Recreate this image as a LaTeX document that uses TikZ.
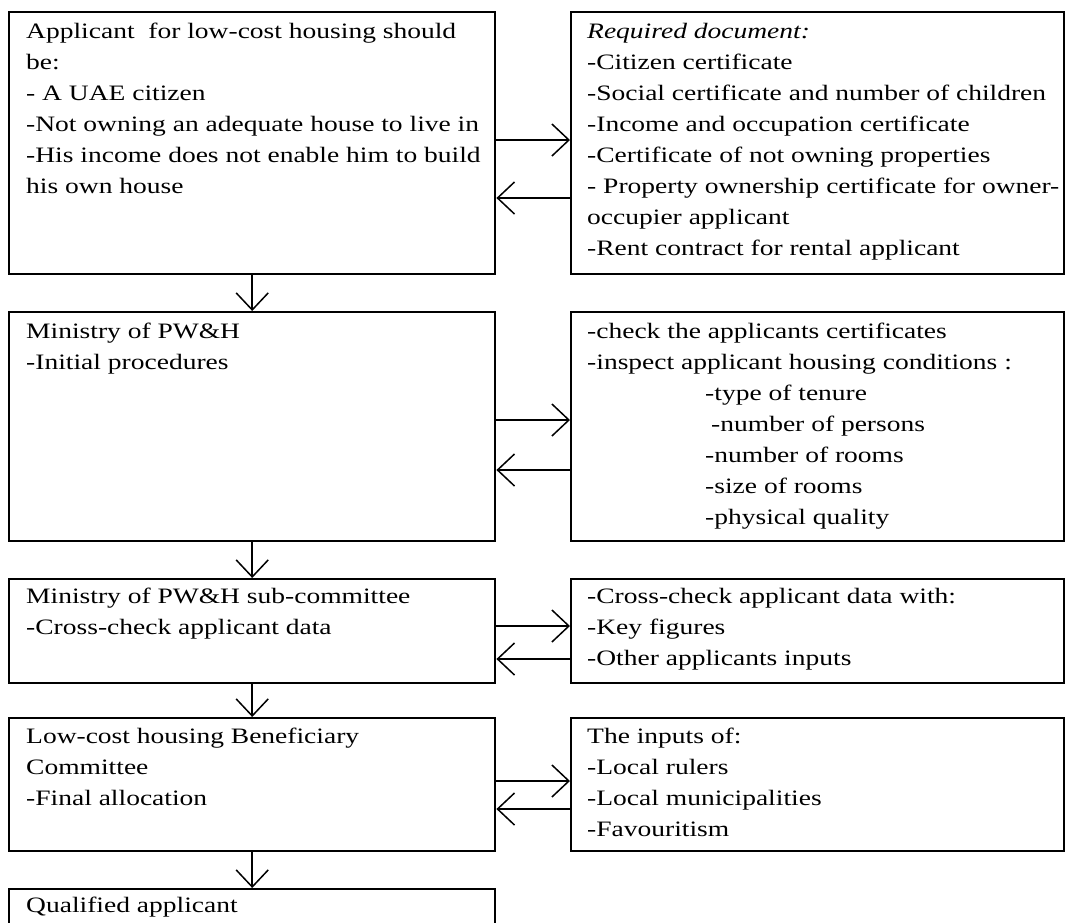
\documentclass[tikz,border=0pt]{standalone}
\usepackage{fontspec}
\setmainfont{Liberation Serif}[FakeStretch=1.25]
\usetikzlibrary{arrows.meta}

\begin{document}
\begin{tikzpicture}[x=1pt,y=-1pt,
  box/.style={draw,line width=2.4pt,inner sep=0pt,anchor=north west},
  txt/.style={anchor=north west,inner sep=0pt,align=left,font=\fontsize{22}{31}\selectfont},
  flow/.style={line width=1.5pt,-{Straight Barb[length=17pt,width=32pt]}}]
\useasboundingbox (0,0) rectangle (1067,922);
\clip (0,0) rectangle (1067,922);

% left column
\node[box,minimum width=486pt,minimum height=262pt] (app) at (8,11) {};
\node[box,minimum width=486pt,minimum height=229pt] (ministry) at (8,311) {};
\node[box,minimum width=486pt,minimum height=104pt] (subcom) at (8,578) {};
\node[box,minimum width=486pt,minimum height=133pt] (benef) at (8,717) {};
\node[box,minimum width=486pt,minimum height=60pt] (qualified) at (8,888) {};

% right column
\node[box,minimum width=493pt,minimum height=262pt] (docs) at (570,11) {};
\node[box,minimum width=493pt,minimum height=229pt] (checks) at (570,311) {};
\node[box,minimum width=493pt,minimum height=104pt] (crosschk) at (570,578) {};
\node[box,minimum width=493pt,minimum height=133pt] (inputs) at (570,717) {};

\node[txt] (apptxt) at (26,23) {Applicant\ \ for low-cost housing should\\be:\\- A UAE citizen\\-Not owning an adequate house to live in\\-His income does not enable him to build\\his own house};
\node[txt] (docstxt) at (587,23) {\textit{Required document:}\\-Citizen certificate\\-Social certificate and number of children\\-Income and occupation certificate\\-Certificate of not owning properties\\- Property ownership certificate for owner-\\occupier applicant\\-Rent contract for rental applicant};

\node[txt] (ministrytxt) at (26,323) {Ministry of PW\&H\\-Initial procedures};
\node[txt] (checkstxt) at (587,323) {-check the applicants certificates\\-inspect applicant housing conditions :\\\hspace*{118pt}-type of tenure\\\hspace*{124pt}-number of persons\\\hspace*{118pt}-number of rooms\\\hspace*{118pt}-size of rooms\\\hspace*{118pt}-physical quality};

\node[txt] (subcomtxt) at (26,588) {Ministry of PW\&H sub-committee\\-Cross-check applicant data};
\node[txt] (crosschktxt) at (587,588) {-Cross-check applicant data with:\\-Key figures\\-Other applicants inputs};

\node[txt] (beneftxt) at (26,728) {Low-cost housing Beneficiary\\Committee\\-Final allocation};
\node[txt] (inputstxt) at (587,728) {The inputs of:\\-Local rulers\\-Local municipalities\\-Favouritism};

\node[txt] (qualifiedtxt) at (26,897) {Qualified applicant};

% down the column
\draw[flow] (app) -- (ministry);
\draw[flow] (ministry) -- (subcom);
\draw[flow] (subcom) -- (benef);
\draw[flow] (benef) -- (qualified);

% to and from the right
\draw[flow] ([yshift=-129pt]app.north east) -- ([yshift=-129pt]docs.north west);
\draw[flow] ([yshift=-187pt]docs.north west) -- ([yshift=-187pt]app.north east);
\draw[flow] ([yshift=-109pt]ministry.north east) -- ([yshift=-109pt]checks.north west);
\draw[flow] ([yshift=-159pt]checks.north west) -- ([yshift=-159pt]ministry.north east);
\draw[flow] ([yshift=-48pt]subcom.north east) -- ([yshift=-48pt]crosschk.north west);
\draw[flow] ([yshift=-81pt]crosschk.north west) -- ([yshift=-81pt]subcom.north east);
\draw[flow] ([yshift=-64pt]benef.north east) -- ([yshift=-64pt]inputs.north west);
\draw[flow] ([yshift=-92pt]inputs.north west) -- ([yshift=-92pt]benef.north east);
\end{tikzpicture}
\end{document}
